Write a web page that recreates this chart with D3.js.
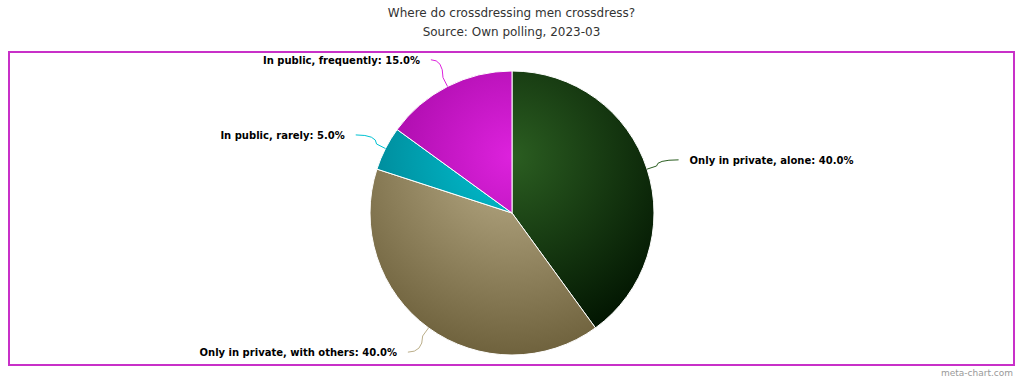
<!DOCTYPE html>
<html>
<head>
<meta charset="utf-8">
<script src="https://cdn.jsdelivr.net/npm/d3@7"></script>
<style>
  body { margin: 0; background: #fff; }
  text { font-family: "DejaVu Sans", Verdana, sans-serif; }
</style>
</head>
<body>
<script>
// chart data
const categories = ["Only in private, alone", "Only in private, with others", "In public, rarely", "In public, frequently"];
const values = [40, 40, 5, 15];
const colors = ["#2b5e21", "#bbae89", "#00c2d2", "#dd22dd"];
const titleLines = ["Where do crossdressing men crossdress?", "Source: Own polling, 2023-03"];

const width = 1023, height = 379;
const cx = 512, cy = 213, r = 142, dist = 30;

const svg = d3.select("body").append("svg")
  .attr("width", width)
  .attr("height", height);

// gradients, same frame for every slice (pie group coords, origin = centre)
const defs = svg.append("defs");
colors.forEach((c, i) => {
  const dark = d3.rgb(c);
  dark.r = Math.max(0, dark.r - 76);
  dark.g = Math.max(0, dark.g - 76);
  dark.b = Math.max(0, dark.b - 76);
  const g = defs.append("radialGradient")
    .attr("id", "grad" + i)
    .attr("gradientUnits", "userSpaceOnUse")
    .attr("cx", 0)
    .attr("cy", -r + 0.3 * 2 * r)
    .attr("r", 0.7 * 2 * r);
  g.append("stop").attr("offset", 0).attr("stop-color", c);
  g.append("stop").attr("offset", 1).attr("stop-color", dark.formatHex());
});

// frame
svg.append("rect")
  .attr("x", 9).attr("y", 52)
  .attr("width", 1005).attr("height", 313)
  .attr("fill", "none")
  .attr("stroke", "#c830c8")
  .attr("stroke-width", 2);

// title
svg.selectAll(".title")
  .data(titleLines)
  .join("text")
  .attr("class", "title")
  .attr("x", width / 2)
  .attr("y", (d, i) => 17 + i * 19)
  .attr("text-anchor", "middle")
  .attr("font-size", 12)
  .attr("fill", "#333")
  .text(d => d);

const pie = d3.pie().sort(null).value(d => d)(values);
const arc = d3.arc().innerRadius(0).outerRadius(r);

const g = svg.append("g").attr("transform", `translate(${cx},${cy})`);

g.selectAll("path.slice")
  .data(pie)
  .join("path")
  .attr("class", "slice")
  .attr("d", arc)
  .attr("fill", (d, i) => `url(#grad${i})`)
  .attr("stroke", "#fff")
  .attr("stroke-width", 1);

// labels and connectors
const total = d3.sum(values);
const labelData = pie.map((d, i) => {
  const a = (d.startAngle + d.endAngle) / 2;
  const s = Math.sin(a), c = Math.cos(a);
  const dir = s >= 0 ? 1 : -1;
  const ay = -(r + dist) * c;
  const ax = dir * Math.sqrt(Math.max(0, (r + dist) ** 2 - ay * ay));
  return {
    i, dir, ax, ay,
    bx: (r + 10) * s, by: -(r + 10) * c,
    ex: r * s, ey: -r * c,
    text: `${categories[i]}: ${(values[i] / total * 100).toFixed(1)}%`
  };
});

g.selectAll("path.conn")
  .data(labelData)
  .join("path")
  .attr("class", "conn")
  .attr("d", d => `M${d.ax + d.dir * 3},${d.ay} Q${d.bx},${d.ay} ${d.bx},${d.by} L${d.ex},${d.ey}`)
  .attr("fill", "none")
  .attr("stroke", d => colors[d.i])
  .attr("stroke-width", 1);

g.selectAll("text.lab")
  .data(labelData)
  .join("text")
  .attr("class", "lab")
  .attr("x", d => d.ax + d.dir * 14)
  .attr("y", d => d.ay + 4)
  .attr("text-anchor", d => d.dir > 0 ? "start" : "end")
  .attr("font-size", 10)
  .attr("font-weight", "bold")
  .attr("fill", "#000")
  .text(d => d.text);

// credits
svg.append("text")
  .attr("x", 1013)
  .attr("y", 376)
  .attr("text-anchor", "end")
  .attr("font-size", 9)
  .attr("fill", "#999")
  .text("meta-chart.com");
</script>
</body>
</html>
